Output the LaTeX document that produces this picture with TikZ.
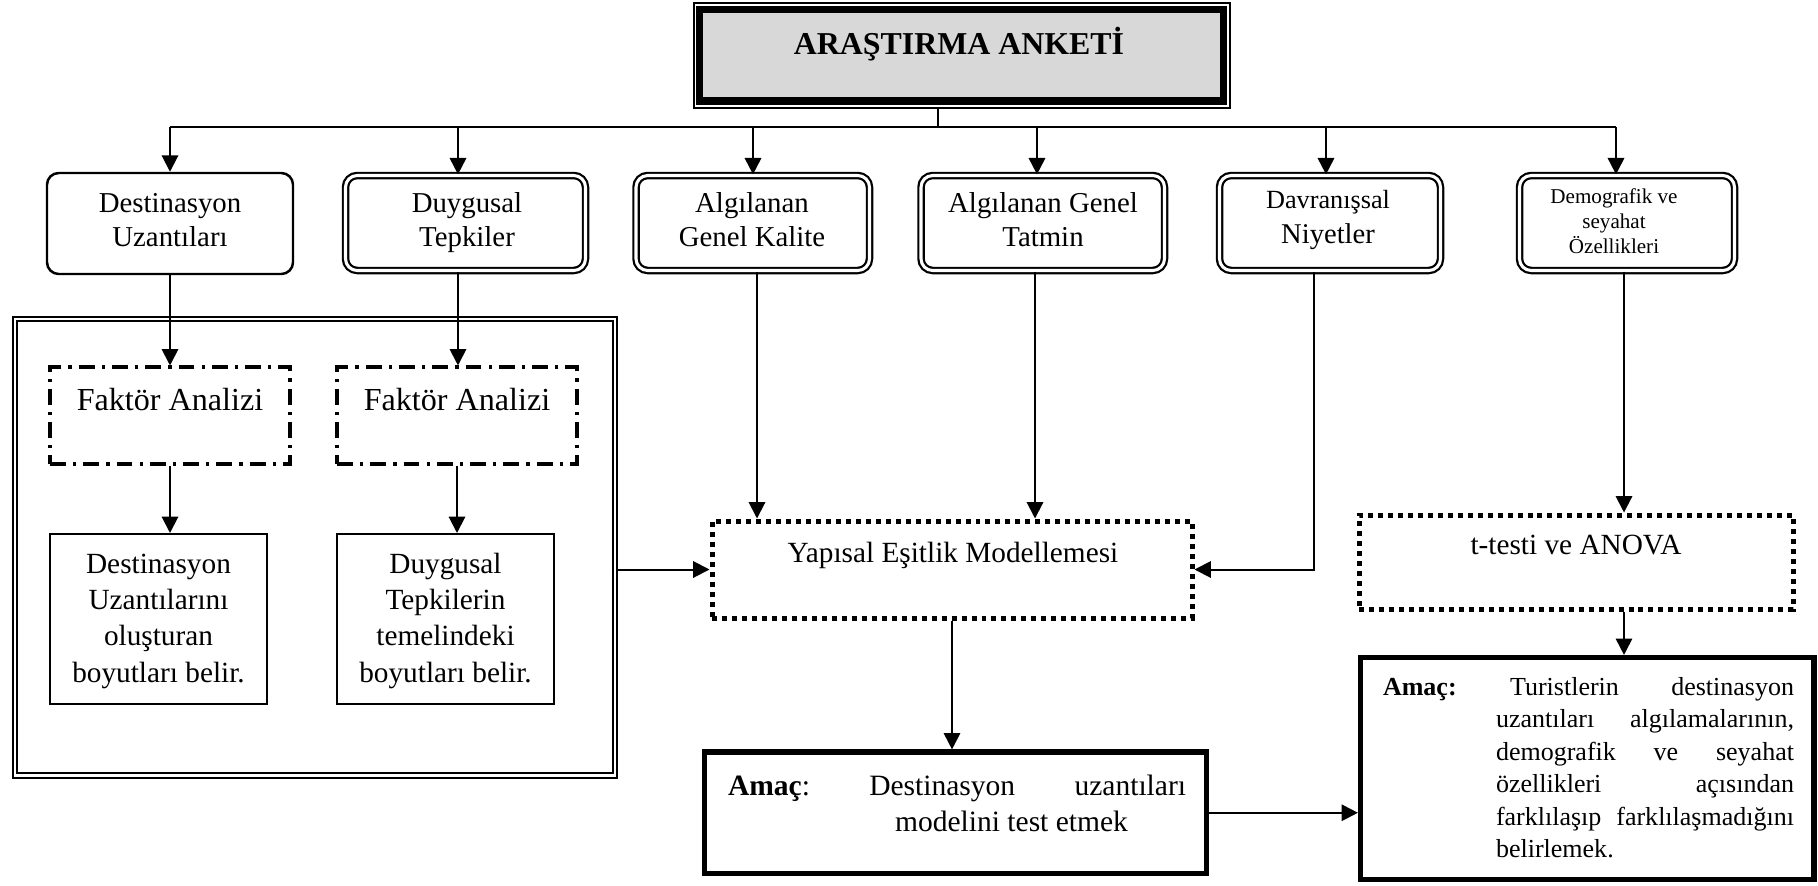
\documentclass[tikz,border=0pt]{standalone}
\usepackage{fontspec}
\setmainfont{Liberation Serif}
\usetikzlibrary{arrows.meta}
\definecolor{titlegray}{RGB}{216,216,216}
% a box node given by the centres of its left, top, right and bottom lines
\newcommand\placebox[6]{%
  \node[#1, minimum width={(#5-#3)*0.4268pt}, minimum height={(#6-#4)*0.4268pt}]
    (#2) at ({(#3+#5)/2},{(#4+#6)/2}) {};}
\newcommand\fs[2]{\fontsize{#1}{#2}\selectfont}
\begin{document}
\begin{tikzpicture}[x=0.4268pt, y=-0.4268pt,
  % multi-line texts are placed by the baseline of their last line
  txt/.style={inner sep=0pt, outer sep=0pt, anchor=base, align=center},
  wire/.style={line width=0.85pt},
  arr/.style={wire, -{Triangle[width=7pt,length=7pt]}},
  plainbox/.style={draw, line width=0.85pt},
  roundbox/.style={draw, line width=1.05pt, rounded corners=5pt},
  dblbox/.style={draw, line width=0.95pt, double, double distance=1.3pt, rounded corners=5pt},
  framebox/.style={draw, line width=0.8pt, double, double distance=1.1pt},
  dashdotbox/.style={draw, line width=1.3pt, dash pattern=on 6.8pt off 3pt on 1.4pt off 3pt},
  dotbox/.style={draw, line width=2.13pt, dash pattern=on 2.13pt off 2.13pt},
  goalbox/.style={draw, line width=2.2pt},
  titlebox/.style={draw, line width=3pt, fill=titlegray},
  titleframe/.style={draw, line width=0.85pt}]
\useasboundingbox (0,0) rectangle (1818,885);

% title
\placebox{titleframe}{titleframe}{693.5}{3}{1230}{108}
\placebox{titlebox}{title}{699.5}{9.5}{1223.5}{101}
\node[txt, font=\fs{13.6}{16}\bfseries] (titletxt) at (959,54) {ARAŞTIRMA ANKETİ};

% questionnaire sections
\placebox{roundbox}{b1}{47}{173}{293}{274}
\placebox{dblbox}{b2}{345.5}{175.5}{585.5}{270.5}
\placebox{dblbox}{b3}{636}{175.5}{869.5}{270.5}
\placebox{dblbox}{b4}{921}{175.5}{1164.5}{270.5}
\placebox{dblbox}{b5}{1219.5}{175.5}{1440.5}{270.5}
\placebox{dblbox}{b6}{1519.5}{175.5}{1734.5}{270.5}

\node[txt, font=\fs{12.3}{14.5}] (b1txt) at (170,246) {Destinasyon\\Uzantıları};
\node[txt, font=\fs{12.3}{14.5}] (b2txt) at (467,246) {Duygusal\\Tepkiler};
\node[txt, font=\fs{12.3}{14.5}] (b3txt) at (752,246) {Algılanan\\Genel Kalite};
\node[txt, font=\fs{12.3}{14.5}] (b4txt) at (1043,246) {Algılanan Genel\\Tatmin};
\node[txt, font=\fs{11.2}{13}] (b5txta) at (1328,208) {Davranışsal};
\node[txt, font=\fs{12.2}{14}] (b5txtb) at (1328,243) {Niyetler};
\node[txt, font=\fs{9}{10.67}] (b6txt) at (1614,253) {Demografik ve\\seyahat\\Özellikleri};

% factor analysis block
\placebox{framebox}{cont}{15}{319}{615}{775.5}
\placebox{dashdotbox}{f1}{50}{367}{290}{464}
\placebox{dashdotbox}{f2}{337}{367}{577}{464}
\node[txt, font=\fs{13.7}{16}] (f1txt) at (170,410) {Faktör Analizi};
\node[txt, font=\fs{13.7}{16}] (f2txt) at (457,410) {Faktör Analizi};
\placebox{plainbox}{d1}{50}{534}{267}{704}
\placebox{plainbox}{d2}{337}{534}{554}{704}
\node[txt, font=\fs{12.5}{15.5}] (d1txt) at (158.5,682)
  {Destinasyon\\Uzantılarını\\oluşturan\\boyutları belir.};
\node[txt, font=\fs{12.5}{15.5}] (d2txt) at (445.5,682)
  {Duygusal\\Tepkilerin\\temelindeki\\boyutları belir.};

% analyses
\placebox{dotbox}{yem}{712}{521}{1192}{618}
\node[txt, font=\fs{12.5}{15}] (yemtxt) at (953,562) {Yapısal Eşitlik Modellemesi};
\placebox{dotbox}{tt}{1359}{515}{1793}{609}
\node[txt, font=\fs{12.5}{15}] (tttxt) at (1576,554) {t-testi ve ANOVA};

% aims
\placebox{goalbox}{a1}{704.5}{752}{1206.5}{873.5}
\node[txt, anchor=base west, font=\fs{12.6}{15}] (a1txta) at (728,795)
  {\makebox[195.5pt][s]{\textbf{Amaç}:\hfill Destinasyon\hfill uzantıları}};
\node[txt, font=\fs{12.6}{15}] (a1txtb) at (1011.5,831) {modelini test etmek};

\placebox{goalbox}{a2}{1360.5}{657.5}{1814}{879.5}
\node[txt, anchor=base west, font=\fs{11.1}{13.87}\bfseries] (a2head) at (1383,695) {Amaç:};
\node[txt, anchor=base west, align=left, font=\fs{11.1}{13.87}] (a2txt) at (1496,857.5)
  {\makebox[127.2pt][s]{\hspace*{6pt}Turistlerin\hfill destinasyon}\\
   \makebox[127.2pt][s]{uzantıları\hfill algılamalarının,}\\
   \makebox[127.2pt][s]{demografik\hfill ve\hfill seyahat}\\
   \makebox[127.2pt][s]{özellikleri\hfill açısından}\\
   \makebox[127.2pt][s]{farklılaşıp\hfill farklılaşmadığını}\\
   belirlemek.};

% tap points
\coordinate (bus) at (938,127);
\coordinate (t1) at (170,127);
\coordinate (t2) at (458,127);
\coordinate (t3) at (753,127);
\coordinate (t4) at (1037,127);
\coordinate (t5) at (1326,127);
\coordinate (t6) at (1616,127);
\coordinate (s3) at (757,300);
\coordinate (s4) at (1035,300);
\coordinate (s5) at (1314,300);
\coordinate (s6) at (1624,300);

% connectors
\draw[wire] (titleframe.south -| bus) -- (bus);
\draw[wire] (t1) -- (t6);
\foreach \i in {1,...,6} \draw[arr] (t\i) -- (t\i |- b\i.north);
\draw[arr] (t1 |- b1.south) -- (t1 |- f1.north);
\draw[arr] (t2 |- b2.south) -- (t2 |- f2.north);
\draw[arr] (f1.south) -- (f1.south |- d1.north);
\draw[arr] (f2.south) -- (f2.south |- d2.north);
\draw[arr] (cont.east |- yem.west) -- (yem.west);
\draw[arr] (s3 |- b3.south) -- (s3 |- yem.north);
\draw[arr] (s4 |- b4.south) -- (s4 |- yem.north);
\draw[arr] (s5 |- b5.south) |- (yem.east);
\draw[arr] (s6 |- b6.south) -- (s6 |- tt.north);
\draw[arr] (yem.south) -- (yem.south |- a1.north);
\draw[arr] (s6 |- tt.south) -- (s6 |- a2.north);
\draw[arr] (a1.east) -- (a1.east -| a2.west);
\end{tikzpicture}
\end{document}
